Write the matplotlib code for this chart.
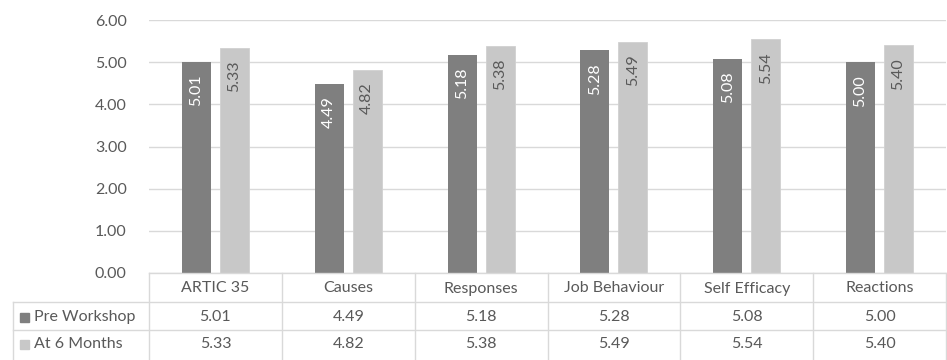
import matplotlib
matplotlib.use('Agg')
import matplotlib.pyplot as plt
import numpy as np

categories = ["ARTIC 35", "Causes", "Responses", "Job Behaviour", "Self Efficacy", "Reactions"]
series_names = ["Pre Workshop", "At 6 Months"]
pre_workshop = [5.01, 4.49, 5.18, 5.28, 5.08, 5.00]
at_6_months = [5.33, 4.82, 5.38, 5.49, 5.54, 5.40]
y_ticks = [0, 1, 2, 3, 4, 5, 6]

DARK = '#7f7f7f'
LIGHT = '#c8c8c8'
TEXT = '#595959'
GRID = '#d9d9d9'
FONT = 'Lato'
FS = 11.5

W, H = 947, 360
fig = plt.figure(figsize=(W / 100, H / 100), dpi=100)

# pixel layout
x0, x1 = 149, 946
y_top, y_zero = 20, 273
ax = fig.add_axes([x0 / W, 1 - y_zero / H, (x1 - x0) / W, (y_zero - y_top) / H])

n = len(categories)
x = np.arange(n)
bw = 0.218
off = 0.143
ax.bar(x - off, pre_workshop, bw, color=DARK, zorder=2)
ax.bar(x + off, at_6_months, bw, color=LIGHT, edgecolor='#d0d0d0', linewidth=0.6, zorder=2)

for xi, v in zip(x, pre_workshop):
    ax.text(xi - off, v - 0.3, f"{v:.2f}", rotation=90, ha='center', va='top',
            color='white', fontsize=FS, family=FONT, zorder=3)
for xi, v in zip(x, at_6_months):
    ax.text(xi + off, v - 0.3, f"{v:.2f}", rotation=90, ha='center', va='top',
            color=TEXT, fontsize=FS, family=FONT, zorder=3)

ax.set_xlim(-0.5, n - 0.5)
ax.set_ylim(0, 6)
ax.set_yticks(y_ticks)
ax.set_yticklabels([f"{t:.2f}" for t in y_ticks], color=TEXT, fontsize=FS, family=FONT)
ax.set_xticks([])
ax.tick_params(axis='y', length=0, pad=16)
ax.grid(axis='y', color=GRID, linewidth=1, zorder=0)
for s in ax.spines.values():
    s.set_visible(False)

# data table below the plot
tab = fig.add_axes([0, 0, 1, 1], facecolor='none')
tab.set_xlim(0, W)
tab.set_ylim(H, 0)
tab.axis('off')

col_w = (x1 - x0) / n
row_y = [273, 302, 330, 360]
lc = GRID
tab.plot([x0, x1], [273, 273], color=lc, lw=1)
tab.plot([13, x1], [302, 302], color=lc, lw=1)
tab.plot([13, x1], [330, 330], color=lc, lw=1)
tab.plot([13, 13], [302, 360], color=lc, lw=1)
for i in range(n + 1):
    cx = x0 + i * col_w
    tab.plot([cx, cx], [273, 360], color=lc, lw=1)

for i, cat in enumerate(categories):
    cx = x0 + (i + 0.5) * col_w
    tab.text(cx, (row_y[0] + row_y[1]) / 2 + 1, cat, ha='center', va='center',
             color=TEXT, fontsize=FS, family=FONT)
    tab.text(cx, (row_y[1] + row_y[2]) / 2 + 1, f"{pre_workshop[i]:.2f}", ha='center', va='center',
             color=TEXT, fontsize=FS, family=FONT)
    tab.text(cx, (row_y[2] + row_y[3]) / 2 - 1, f"{at_6_months[i]:.2f}", ha='center', va='center',
             color=TEXT, fontsize=FS, family=FONT)

for r, (name, col) in enumerate(zip(series_names, [DARK, LIGHT])):
    cy = (row_y[r + 1] + row_y[r + 2]) / 2 + (1 if r == 0 else -1)
    tab.add_patch(plt.Rectangle((20, cy - 4.5), 9, 9, color=col))
    tab.text(34, cy, name, ha='left', va='center', color=TEXT, fontsize=FS, family=FONT)

fig.savefig('out.png', dpi=100, facecolor='white')
